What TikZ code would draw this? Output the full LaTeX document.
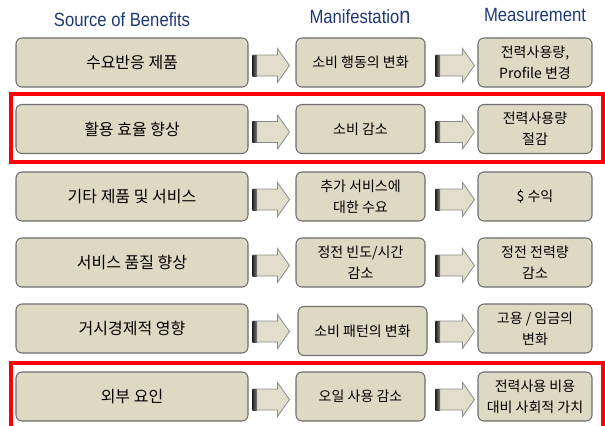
\documentclass[tikz,border=0pt]{standalone}
\usepackage{fontspec}
\setmainfont{Liberation Sans}
\newfontfamily\kr{Noto Sans CJK KR}
\usetikzlibrary{calc}
\definecolor{boxfill}{RGB}{221,217,195}
\definecolor{boxline}{RGB}{110,110,110}
\definecolor{hdblue}{RGB}{31,56,120}
\definecolor{arrfill}{RGB}{226,222,203}
\newcommand\blockarrow[5]{%
  \coordinate (ba-s) at ($(#1.east |- #3.center)+(#4,3)$);
  \coordinate (ba-t) at ($(#2.west |- #3.center)+(-#5,3)$);
  \filldraw[arrbody] ($(ba-s)+(0,-10.5)$) -- ($(ba-t)+(-12,-10.5)$) -- ($(ba-t)+(-12,-17)$) -- (ba-t)
     -- ($(ba-t)+(-12,17)$) -- ($(ba-t)+(-12,10.5)$) -- ($(ba-s)+(0,10.5)$) -- cycle;
  \shade[left color=black!85, right color=black!50] ($(ba-s)+(0,-10.5)$) rectangle ($(ba-s)+(4.5,10.5)$);
}
\newcommand\diagrow[5]{%
  \node[lbox] (L#1) at (132,#2) {#3};
  \node[mbox] (M#1) at (360.5,#2) {#4};
  \node[rbox] (R#1) at (535,#2) {#5};
  \blockarrow{L#1}{M#1}{L#1}{4}{6}
  \blockarrow{M#1}{R#1}{R#1}{10}{3}
}
\begin{document}
\begin{tikzpicture}[x=0.75pt,y=-0.75pt,
  box/.style={draw=boxline, line width=0.8pt, fill=boxfill, rounded corners=4.5pt,
    minimum height=36.75pt, inner sep=0pt, align=center,
    font=\kr\fontsize{10.5}{15.75}\selectfont},
  lbox/.style={box, minimum width=174pt, font=\kr\fontsize{12}{15}\selectfont},
  mbox/.style={box, minimum width=96.75pt},
  rbox/.style={box, minimum width=85.5pt},
  hdr/.style={text=hdblue, font=\fontsize{12.5}{15}\selectfont, yscale=1.15, inner sep=0pt},
  arrbody/.style={draw=boxline!80, line width=0.6pt, fill=arrfill},
  hl/.style={draw=red, line width=2.3pt}]
\useasboundingbox (0,0) rectangle (605,425);
\clip (0,0) rectangle (605,425);

\node[hdr] (h1) at (122,20) {Source of Benefits};
\node[hdr] (h2) at (360,17) {Manifestatio{\fontsize{15}{15}\selectfont n}};
\node[hdr] (h3) at (535,15) {Measurement};

\diagrow{1}{62.5}{수요반응 제품}{소비 행동의 변화}{전력사용량,\\Profile 변경}
\diagrow{2}{129}{활용 효율 향상}{소비 감소}{전력사용량\\절감}
\diagrow{3}{196.5}{기타 제품 및 서비스}{추가 서비스에\\대한 수요}{\$ 수익}
\diagrow{4}{262.5}{서비스 품질 향상}{정전 빈도/시간\\감소}{정전 전력량\\감소}

\node[lbox] (L5) at (132,328.5) {거시경제적 영향};
\node[mbox] (M5) at (362.5,331) {소비 패턴의 변화};
\node[rbox] (R5) at (535,328.5) {고용 / 임금의\\변화};
\blockarrow{L5}{M5}{L5}{4}{8}
\blockarrow{M5}{R5}{R5}{8}{3}

\diagrow{6}{396.5}{외부 요인}{오일 사용 감소}{전력사용 비용\\대비 사회적 가치}

\draw[hl] (11,94) rectangle (603,162);
\draw[hl] (11,363) rectangle (603,428);
\end{tikzpicture}
\end{document}
